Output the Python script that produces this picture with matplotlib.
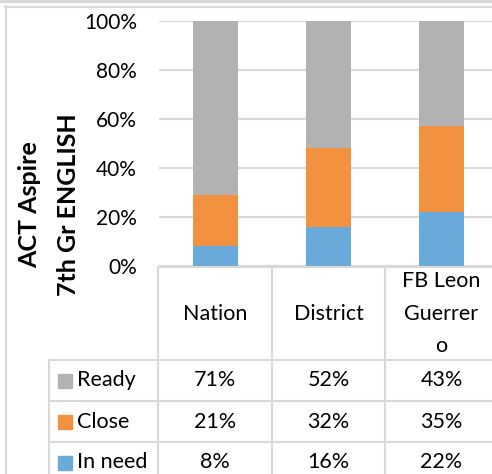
import numpy as np
import matplotlib
matplotlib.use('Agg')
import matplotlib.pyplot as plt
from matplotlib.patches import Rectangle

# data (percent)
categories = ['Nation', 'District', 'FB Leon\nGuerrer\no']
in_need = [8, 16, 22]
close = [21, 32, 35]
ready = [71, 52, 43]
series_names = ['Ready', 'Close', 'In need']
yticks = [0, 20, 40, 60, 80, 100]

c_ready = '#b2b2b2'
c_close = '#f29240'
c_need = '#6aaadb'
grid_c = '#d9d9d9'

plt.rcParams['font.family'] = ['Lato', 'DejaVu Sans']

W, H = 492, 474
fig = plt.figure(figsize=(W / 100, H / 100), dpi=100)

# bar area (extends slightly past right edge like the original crop)
ax = fig.add_axes([159 / W, 1 - 266 / H, (498 - 159) / W, (266 - 21) / H])
x = np.arange(len(categories))
bw = 0.39
ax.bar(x, in_need, bw, color=c_need, zorder=3)
ax.bar(x, close, bw, bottom=in_need, color=c_close, zorder=3)
ax.bar(x, ready, bw, bottom=np.add(in_need, close), color=c_ready, zorder=3)
ax.set_xlim(-0.5, len(categories) - 0.5)
ax.set_ylim(0, 100)
ax.set_yticks(yticks)
ax.set_yticklabels([str(t) + '%' for t in yticks], fontsize=15)
ax.set_xticks([])
ax.tick_params(axis='y', length=0, pad=16)
ax.grid(axis='y', color=grid_c, linewidth=1.5, zorder=0)
for s in ax.spines.values():
    s.set_visible(False)

fig.text(49 / W, 1 - 205 / H, 'ACT Aspire\n7th Gr ENGLISH', rotation=90,
         ha='center', va='center', fontsize=18, fontweight='bold',
         linespacing=1.8)

# overlay in pixel coords for frame and data table
ov = fig.add_axes([0, 0, 1, 1])
ov.set_xlim(0, W)
ov.set_ylim(H, 0)
ov.axis('off')

lw = 1.5
ov.plot([0, W], [1, 1], color=grid_c, lw=2.2)
ov.plot([5.5, 5.5], [6, H], color=grid_c, lw=lw)
ov.plot([5, W], [6.5, 6.5], color=grid_c, lw=lw)

col_edges = [49, 158, 272, 385, 498]
row_edges = [267, 360, 401, 442, 483]
ov.plot([158, W], [267, 267], color=grid_c, lw=lw)
for xe in col_edges[1:4]:
    ov.plot([xe, xe], [267, H], color=grid_c, lw=lw)
ov.plot([49, 49], [360, H], color=grid_c, lw=lw)
for ye in row_edges[1:4]:
    ov.plot([49, W], [ye, ye], color=grid_c, lw=lw)

col_c = [(col_edges[i] + col_edges[i + 1]) / 2 for i in range(1, 4)]
head_c = (row_edges[0] + row_edges[1]) / 2
for cx, name in zip(col_c, categories):
    ov.text(cx, head_c, name, ha='center', va='center', fontsize=15.5,
            linespacing=1.8)

rows = [ready, close, in_need]
colors = [c_ready, c_close, c_need]
for i, (name, vals, col) in enumerate(zip(series_names, rows, colors)):
    cy = (row_edges[i + 1] + row_edges[i + 2]) / 2
    ov.add_patch(Rectangle((58, cy - 7), 14, 14, color=col))
    ov.text(77, cy, name, ha='left', va='center', fontsize=15.5)
    for cx, v in zip(col_c, vals):
        ov.text(cx, cy, str(v) + '%', ha='center', va='center', fontsize=15.5)

plt.savefig('out.png', dpi=100)
